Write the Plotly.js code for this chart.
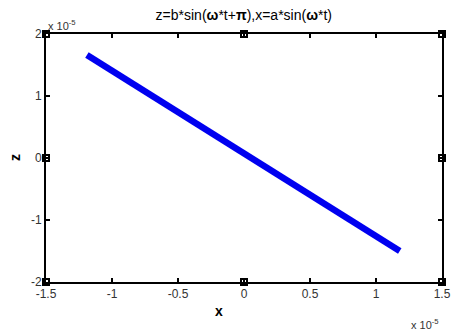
<!DOCTYPE html>
<html>
<head>
<meta charset="utf-8">
<script src="https://cdn.plot.ly/plotly-3.0.1.min.js"></script>
<style>
  html, body { margin: 0; padding: 0; background: #fff; }
  #plotDiv { width: 454px; height: 333px; }
</style>
</head>
<body>
<div id="plotDiv"></div>
<script>
let xValues = [-1.19e-5, -0.6e-5, 0, 0.6e-5, 1.18e-5];
let zValues = [1.66e-5, 0.87e-5, 0.06e-5, -0.73e-5, -1.50e-5];

// little square markers on the frame
let markX = [-1.5e-5, 0, 1.5e-5, -1.5e-5, 1.5e-5, -1.5e-5, 0, 1.5e-5];
let markZ = [2e-5, 2e-5, 2e-5, 0, 0, -2e-5, -2e-5, -2e-5];

// tick positions and labels
let xTickVals = [-1.5e-5, -1e-5, -0.5e-5, 0, 0.5e-5, 1e-5, 1.5e-5];
let xTickText = ['-1.5', '-1', '-0.5', '0', '0.5', '1', '1.5'];
let zTickVals = [-2e-5, -1e-5, 0, 1e-5, 2e-5];
let zTickText = ['-2', '-1', '0', '1', '2'];

let data = [
    {
        x: xValues,
        y: zValues,
        type: 'scatter',
        mode: 'lines',
        line: { color: '#0000f0', width: 6.5 },
        hoverinfo: 'skip'
    },
    {
        x: markX,
        y: markZ,
        type: 'scatter',
        mode: 'markers',
        marker: { symbol: 'square-open', size: 6, color: '#000', line: { width: 2, color: '#000' } },
        cliponaxis: false,
        hoverinfo: 'skip'
    }
];

let axisCommon = {
    showgrid: false,
    zeroline: false,
    showline: true,
    mirror: 'ticks',
    linecolor: '#000',
    linewidth: 2,
    ticks: 'inside',
    ticklen: 4,
    tickwidth: 1.5,
    tickcolor: '#000',
    tickmode: 'array',
    tickfont: { family: 'Liberation Sans, Arial, sans-serif', size: 12, color: '#333' }
};

let layout = {
    width: 454,
    height: 333,
    margin: { l: 46, r: 12, t: 34, b: 51 },
    paper_bgcolor: '#fff',
    plot_bgcolor: '#fff',
    showlegend: false,
    font: { family: 'Liberation Sans, Arial, sans-serif', color: '#000' },
    title: {
        text: 'z=b*sin(<b>ω</b>*t+<b>π</b>),x=a*sin(<b>ω</b>*t)',
        font: { size: 14, color: '#000' },
        x: 0.537, xanchor: 'center', y: 0.955, yanchor: 'middle'
    },
    xaxis: Object.assign({}, axisCommon, {
        range: [-1.5e-5, 1.5e-5],
        tickvals: xTickVals,
        ticktext: xTickText,
        ticklabelstandoff: 0
    }),
    yaxis: Object.assign({}, axisCommon, {
        range: [-2e-5, 2e-5],
        tickvals: zTickVals,
        ticktext: zTickText,
        ticklabelstandoff: 0
    }),
    annotations: [
        { text: '<b>x</b>', xref: 'paper', yref: 'paper', x: 0.436, y: -0.115, showarrow: false,
          font: { size: 14, color: '#000' }, xanchor: 'center', yanchor: 'middle' },
        { text: '<b>z</b>', xref: 'paper', yref: 'paper', x: -0.078, y: 0.5, showarrow: false,
          textangle: -90, font: { size: 14, color: '#000' }, xanchor: 'center', yanchor: 'middle' },
        { text: 'x 10<sup>-5</sup>', xref: 'paper', yref: 'paper', x: 0, y: 1.0, showarrow: false,
          font: { size: 11, color: '#333' }, xanchor: 'left', yanchor: 'bottom' },
        { text: 'x 10<sup>-5</sup>', xref: 'paper', yref: 'paper', x: 0.998, y: -0.135, showarrow: false,
          font: { size: 11, color: '#333' }, xanchor: 'right', yanchor: 'top' }
    ]
};

Plotly.newPlot('plotDiv', data, layout, { displayModeBar: false, staticPlot: true });
</script>
</body>
</html>
